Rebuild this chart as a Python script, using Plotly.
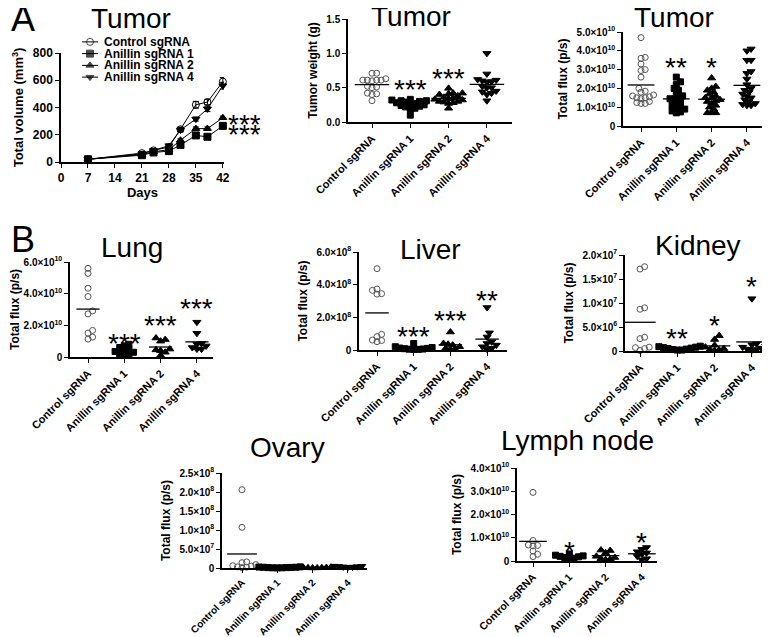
import numpy as np
import plotly.graph_objects as go

W, H = 770, 637
OFF = 8  # page body margin in the browser
FW, FH = W - OFF, H - OFF
FONT = "'Liberation Sans', Arial, sans-serif"

# ---------------- data ----------------
groups = ["Control sgRNA", "Anillin sgRNA 1", "Anillin sgRNA 2", "Anillin sgRNA 4"]
days = [7, 21, 24, 28, 31, 35, 38, 42]
vol_control = [20, 65, 85, 110, 240, 420, 440, 590]
vol_sg1 = [20, 50, 70, 80, 125, 195, 185, 265]
vol_sg2 = [20, 55, 75, 90, 160, 245, 245, 325]
vol_sg4 = [20, 60, 85, 120, 235, 315, 390, 560]
err_control = [5, 8, 8, 10, 15, 25, 20, 30]
err_sg1 = [4, 6, 6, 8, 10, 12, 12, 15]
err_sg2 = [4, 6, 6, 8, 10, 12, 12, 12]
err_sg4 = [4, 6, 8, 10, 15, 15, 20, 25]
vol_xticks = [0, 7, 14, 21, 28, 35, 42]
vol_yticks = [0, 200, 400, 600, 800]

weight_control = [0.71, 0.71, 0.63, 0.61, 0.61, 0.61, 0.61, 0.60, 0.52, 0.51, 0.50, 0.42, 0.41, 0.40, 0.31]
weight_sg1 = [0.33, 0.32, 0.31, 0.31, 0.30, 0.29, 0.28, 0.27, 0.26, 0.25, 0.24, 0.23, 0.22, 0.20, 0.19, 0.10]
weight_sg2 = [0.49, 0.42, 0.42, 0.41, 0.40, 0.38, 0.36, 0.35, 0.34, 0.33, 0.32, 0.30, 0.30, 0.29, 0.28, 0.27, 0.20]
weight_sg4 = [1.0, 0.70, 0.62, 0.61, 0.60, 0.59, 0.58, 0.52, 0.50, 0.50, 0.45, 0.44, 0.42, 0.40, 0.31]
weight_ticks = [0.0, 0.5, 1.0, 1.5]
weight_ticktext = ["0.0", "0.5", "1.0", "1.5"]

tflux_control = [4.7, 3.65, 3.6, 3.3, 3.0, 2.95, 2.6, 2.0, 1.85, 1.8, 1.65, 1.6, 1.55, 1.5, 1.5, 1.45, 1.3, 1.25, 1.2, 1.2]
tflux_sg1 = [2.6, 2.35, 2.2, 2.0, 1.9, 1.7, 1.6, 1.5, 1.45, 1.4, 1.3, 1.2, 1.1, 1.0, 0.95, 0.9, 0.8, 0.75, 0.7]
tflux_sg2 = [2.55, 2.1, 2.0, 1.9, 1.8, 1.7, 1.6, 1.5, 1.5, 1.4, 1.35, 1.3, 1.2, 1.1, 1.0, 0.9, 0.7, 0.7, 0.7]
tflux_sg4 = [4.1, 4.0, 3.5, 3.5, 2.9, 2.8, 2.5, 2.2, 2.0, 1.9, 1.8, 1.7, 1.6, 1.5, 1.4, 1.3, 1.2, 1.15, 1.1, 1.1]
tflux_ticks = [0, 1, 2, 3, 4, 5]
tflux_ticktext = ["0", "1.0×10<sup>10</sup>", "2.0×10<sup>10</sup>", "3.0×10<sup>10</sup>",
                  "4.0×10<sup>10</sup>", "5.0×10<sup>10</sup>"]

lung_control = [5.6, 5.28, 4.34, 3.82, 2.91, 2.72, 1.68, 1.51, 1.26, 1.13]
lung_sg1 = [0.8, 0.7, 0.6, 0.5, 0.4, 0.35, 0.3, 0.2, 0.15, 0.1]
lung_sg2 = [1.2, 1.1, 1.0, 0.5, 0.45, 0.4, 0.3, 0.1]
lung_sg4 = [2.2, 1.5, 0.85, 0.8, 0.7, 0.6, 0.5, 0.5]
lung_ticks = [0, 2, 4, 6]
lung_ticktext = ["0", "2.0×10<sup>10</sup>", "4.0×10<sup>10</sup>", "6.0×10<sup>10</sup>"]

liver_control = [4.98, 3.73, 3.65, 3.45, 3.42, 0.96, 0.82, 0.61, 0.58, 0.51]
liver_sg1 = [0.4, 0.2, 0.15, 0.12, 0.1, 0.08, 0.06, 0.05, 0.04, 0.03]
liver_sg2 = [1.1, 0.4, 0.35, 0.3, 0.2, 0.1, 0.05, 0.05]
liver_sg4 = [2.6, 1.05, 0.8, 0.5, 0.4, 0.3, 0.2, 0.1, 0.05]
liver_ticks = [0, 2, 4, 6]
liver_ticktext = ["0", "2.0×10<sup>8</sup>", "4.0×10<sup>8</sup>", "6.0×10<sup>8</sup>"]

kidney_control = [17.56, 17.07, 9.0, 8.7, 2.86, 2.58, 0.8, 0.7, 0.5, 0.1]
kidney_sg1 = [1.0, 0.9, 0.8, 0.7, 0.6, 0.5, 0.4, 0.3, 0.2, 0.2]
kidney_sg2 = [3.2, 2.4, 1.2, 0.8, 0.5, 0.3, 0.2, 0.1]
kidney_sg4 = [10.9, 1.5, 1.3, 1.0, 0.8, 0.6, 0.4, 0.3, 0.2]
kidney_ticks = [0, 5, 10, 15, 20]
kidney_ticktext = ["0", "5.0×10<sup>6</sup>", "1.0×10<sup>7</sup>", "1.5×10<sup>7</sup>", "2.0×10<sup>7</sup>"]

ovary_control = [206, 107, 16, 14, 9, 6, 5, 3, 2, 1]
ovary_sg1 = [3, 2.5, 2, 2, 1.5, 1, 1, 0.5, 0.5, 0.3]
ovary_sg2 = [2, 1.5, 1.2, 1, 0.8, 0.5, 0.3, 0.2]
ovary_sg4 = [5, 4.5, 4, 3.5, 3, 2.5, 2]
ovary_ticks = [0, 50, 100, 150, 200, 250]
ovary_ticktext = ["0", "5.0×10<sup>7</sup>", "1.0×10<sup>8</sup>", "1.5×10<sup>8</sup>",
                  "2.0×10<sup>8</sup>", "2.5×10<sup>8</sup>"]

lymph_control = [2.95, 0.88, 0.69, 0.67, 0.65, 0.43, 0.29, 0.19]
lymph_sg1 = [0.3, 0.25, 0.22, 0.2, 0.18, 0.15, 0.12, 0.1]
lymph_sg2 = [0.47, 0.45, 0.35, 0.2, 0.15, 0.1, 0.08, 0.05]
lymph_sg4 = [0.58, 0.5, 0.4, 0.35, 0.3, 0.2, 0.1, 0.05]
lymph_ticks = [0, 1, 2, 3, 4]
lymph_ticktext = ["0", "1.0×10<sup>10</sup>", "2.0×10<sup>10</sup>", "3.0×10<sup>10</sup>", "4.0×10<sup>10</sup>"]

# significance marks: (group index, y position of mark, text)
weight_sig = [(1, 0.57, "***"), (2, 0.73, "***")]
tflux_sig = [(1, 3.5, "**"), (2, 3.5, "*")]
lung_sig = [(1, 1.3, "***"), (2, 2.45, "***"), (3, 3.5, "***")]
liver_sig = [(1, 1.23, "***"), (2, 2.25, "***"), (3, 3.44, "**")]
kidney_sig = [(1, 4.0, "**"), (2, 6.8, "*"), (3, 14.8, "*")]
ovary_sig = []
lymph_sig = [(1, 0.69, "*"), (3, 1.08, "*")]
vol_sig = [(330, "***"), (250, "***")]

# ---------------- styling ----------------
symbols = ["circle-open", "square", "triangle-up", "triangle-down"]
msizes = [6, 6, 7, 7]


def pfx(px):
    return (px - OFF) / FW


def pfy(py):
    return 1 - (py - OFF) / FH


fig = go.Figure()
annotations = []

tickfont = dict(family=FONT, size=11, color="black", weight="bold")
axis_common = dict(showline=True, linecolor="black", linewidth=1.5, ticks="outside",
                   ticklen=4, tickwidth=1.2, tickcolor="black", showgrid=False,
                   zeroline=False, fixedrange=True, automargin=False)
layout_axes = {}

# ---- line chart (Tumor volume) ----
line_box = dict(left=61, right=224, top=53, bottom=162)
vol_series = [vol_control, vol_sg1, vol_sg2, vol_sg4]
vol_err = [err_control, err_sg1, err_sg2, err_sg4]
for g, ys, es, sym in zip(groups, vol_series, vol_err, symbols):
    fig.add_trace(go.Scatter(
        x=days, y=ys, mode="lines+markers", name=g,
        line=dict(color="black", width=1),
        marker=dict(symbol=sym, size=7, color="black", line=dict(color="black", width=1)),
        error_y=dict(type="data", array=es, color="black", thickness=1, width=3),
        xaxis="x", yaxis="y", cliponaxis=False, showlegend=False))

layout_axes["xaxis"] = dict(axis_common, domain=[pfx(line_box["left"]), pfx(line_box["right"])],
                            range=[0, 42.3], tickvals=vol_xticks, anchor="y",
                            tickfont=dict(tickfont, size=12),
                            title=dict(text="<b>Days</b>", font=dict(family=FONT, size=13, color="black"), standoff=4))
layout_axes["yaxis"] = dict(axis_common, domain=[pfy(line_box["bottom"]), pfy(line_box["top"])],
                            range=[0, 800], tickvals=vol_yticks, anchor="x",
                            tickfont=dict(tickfont, size=12),
                            title=dict(text="<b>Total volume (mm<sup>3</sup>)</b>", font=dict(family=FONT, size=13, color="black"), standoff=6))
for yv, txt in vol_sig:
    annotations.append(dict(x=42, y=yv, xref="x", yref="y", text=txt, showarrow=False,
                            xanchor="left", yanchor="middle", xshift=3, yshift=-7,
                            font=dict(family=FONT, size=28, color="black")))

# ---- legend for the line chart (compact, drawn on its own hidden axes) ----
leg_box = dict(left=82, right=98, top=36, bottom=83)
rows = list(range(len(groups)))
for r, sym in zip(rows, symbols):
    fig.add_trace(go.Scatter(
        x=[0, 0.5, 1], y=[r, r, r], mode="lines+markers", xaxis="x9", yaxis="y9",
        showlegend=False, cliponaxis=False, line=dict(color="black", width=1),
        marker=dict(symbol=sym, size=[0, 7, 0], color="black", line=dict(color="black", width=1))))
    annotations.append(dict(x=1, y=r, xref="x9", yref="y9", text="<b>" + groups[r] + "</b>",
                            showarrow=False, xanchor="left", yanchor="middle", xshift=4,
                            font=dict(family=FONT, size=12, color="black")))
hidden = dict(visible=False, showgrid=False, zeroline=False, fixedrange=True, automargin=False)
layout_axes["xaxis9"] = dict(hidden, domain=[pfx(leg_box["left"]), pfx(leg_box["right"])],
                             range=[0, 1], anchor="y9")
layout_axes["yaxis9"] = dict(hidden, domain=[pfy(leg_box["bottom"]), pfy(leg_box["top"])],
                             range=[len(groups) - 0.5, -0.5], anchor="x9")


# ---- scatter panels ----
def swarm(values, ppx, ppy, d):
    vals = np.asarray(values, dtype=float)
    order = np.argsort(vals)
    placed = []
    offs = np.zeros(len(vals))
    step = d * 0.5
    for i in order:
        y = vals[i] * ppy
        k = 0
        done = False
        while not done:
            cands = [0.0] if k == 0 else [k * step, -k * step]
            for x in cands:
                if all((x - px) ** 2 + (y - py) ** 2 >= d * d for px, py in placed):
                    placed.append((x, y))
                    offs[i] = x / ppx
                    done = True
                    break
            k += 1
    return offs


panels = [
    dict(ax=2, data=[weight_control, weight_sg1, weight_sg2, weight_sg4], ymax=1.5,
         ticks=weight_ticks, ticktext=weight_ticktext, ytitle="Tumor weight (g)", sig=weight_sig,
         left=348, right=512, top=19, bottom=122, p0=372, s=38.3, half=0.45, d=4.6, cat=11, tl=4),
    dict(ax=3, data=[tflux_control, tflux_sg1, tflux_sg2, tflux_sg4], ymax=5,
         ticks=tflux_ticks, ticktext=tflux_ticktext, ytitle="Total flux (p/s)", sig=tflux_sig,
         left=623, right=766, top=32, bottom=126, p0=641, s=35.3, half=0.38, d=4.2, cat=11, tl=4),
    dict(ax=4, data=[lung_control, lung_sg1, lung_sg2, lung_sg4], ymax=6,
         ticks=lung_ticks, ticktext=lung_ticktext, ytitle="Total flux (p/s)", sig=lung_sig,
         left=70, right=213, top=262, bottom=357, p0=88, s=36.3, half=0.32, d=4.6, cat=11, tl=4),
    dict(ax=5, data=[liver_control, liver_sg1, liver_sg2, liver_sg4], ymax=6,
         ticks=liver_ticks, ticktext=liver_ticktext, ytitle="Total flux (p/s)", sig=liver_sig,
         left=359, right=507, top=252, bottom=350, p0=377, s=36.7, half=0.32, d=4.6, cat=11, tl=4),
    dict(ax=6, data=[kidney_control, kidney_sg1, kidney_sg2, kidney_sg4], ymax=20,
         ticks=kidney_ticks, ticktext=kidney_ticktext, ytitle="Total flux (p/s)", sig=kidney_sig,
         left=625, right=767, top=255, bottom=351, p0=640, s=37.3, half=0.42, d=4.6, cat=11, tl=4),
    dict(ax=7, data=[ovary_control, ovary_sg1, ovary_sg2, ovary_sg4], ymax=250,
         ticks=ovary_ticks, ticktext=ovary_ticktext, ytitle="Total flux (p/s)", sig=ovary_sig,
         left=222, right=367, top=473, bottom=568, p0=242, s=35.3, half=0.42, d=4.6, cat=10, tl=3),
    dict(ax=8, data=[lymph_control, lymph_sg1, lymph_sg2, lymph_sg4], ymax=4,
         ticks=lymph_ticks, ticktext=lymph_ticktext, ytitle="Total flux (p/s)", sig=lymph_sig,
         left=517, right=657, top=468, bottom=561, p0=533, s=36.3, half=0.38, d=4.6, cat=10.5, tl=4),
]

for p in panels:
    n = p["ax"]
    xa, ya = "x%d" % n, "y%d" % n
    ppx = p["s"]
    ppy = (p["bottom"] - p["top"]) / p["ymax"]
    xr = [(p["left"] - p["p0"]) / p["s"], (p["right"] - p["p0"]) / p["s"]]
    for gi, vals in enumerate(p["data"]):
        offs = swarm(vals, ppx, ppy, p["d"])
        sym = symbols[gi]
        fig.add_trace(go.Scatter(
            x=gi + offs, y=vals, mode="markers", xaxis=xa, yaxis=ya, showlegend=False,
            cliponaxis=False,
            marker=dict(symbol=sym, size=msizes[gi],
                        color="black" if gi else "#555555",
                        line=dict(color="#555555" if gi == 0 else "black", width=1))))
        m = float(np.mean(vals))
        fig.add_trace(go.Scatter(
            x=[gi - p["half"], gi + p["half"]], y=[m, m], mode="lines", xaxis=xa, yaxis=ya,
            showlegend=False, cliponaxis=False, line=dict(color="black", width=1.3)))
    layout_axes["xaxis%d" % n] = dict(axis_common, domain=[pfx(p["left"]), pfx(p["right"])],
                                      range=xr, tickvals=[0, 1, 2, 3], ticktext=groups,
                                      tickangle=-45, anchor=ya, ticklen=p["tl"],
                                      tickfont=dict(tickfont, size=p["cat"]))
    layout_axes["yaxis%d" % n] = dict(axis_common, domain=[pfy(p["bottom"]), pfy(p["top"])],
                                      range=[0, p["ymax"]], tickvals=p["ticks"], ticktext=p["ticktext"],
                                      anchor=xa, tickfont=dict(tickfont, size=10),
                                      title=dict(text="<b>" + p["ytitle"] + "</b>",
                                                 font=dict(family=FONT, size=12, color="black"), standoff=6))
    for gi, yv, txt in p["sig"]:
        annotations.append(dict(x=gi, y=yv, xref=xa, yref=ya, text=txt, showarrow=False,
                                xanchor="center", yanchor="middle", yshift=-7,
                                font=dict(family=FONT, size=28, color="black")))

# ---- titles ----
titles = [("Tumor", 131, 15, 28), ("Tumor", 411, 13, 28), ("Tumor", 674, 14, 28),
          ("Lung", 132, 244, 28), ("Liver", 430, 246, 28), ("Kidney", 698, 242, 28),
          ("Ovary", 287, 444, 28), ("Lymph node", 577, 437, 28)]
for txt, cx, cy, fs in titles:
    annotations.append(dict(x=pfx(cx), y=pfy(cy), xref="paper", yref="paper", text=txt,
                            showarrow=False, xanchor="center", yanchor="middle", yshift=-3,
                            font=dict(family=FONT, size=fs, color="black")))
panel_letters = [("A", 15), ("B", 236)]
for txt, cy in panel_letters:
    annotations.append(dict(x=0, y=pfy(cy), xref="paper", yref="paper", text=txt,
                            showarrow=False, xanchor="left", yanchor="middle", yshift=-3, xshift=1,
                            font=dict(family=FONT, size=36, color="black")))

fig.update_layout(
    width=FW, height=FH, margin=dict(l=0, r=0, t=0, b=0, autoexpand=False),
    paper_bgcolor="white", plot_bgcolor="white",
    font=dict(family=FONT, color="black"),
    showlegend=False,
    annotations=annotations,
    **layout_axes,
)

fig.write_html("out.html")
